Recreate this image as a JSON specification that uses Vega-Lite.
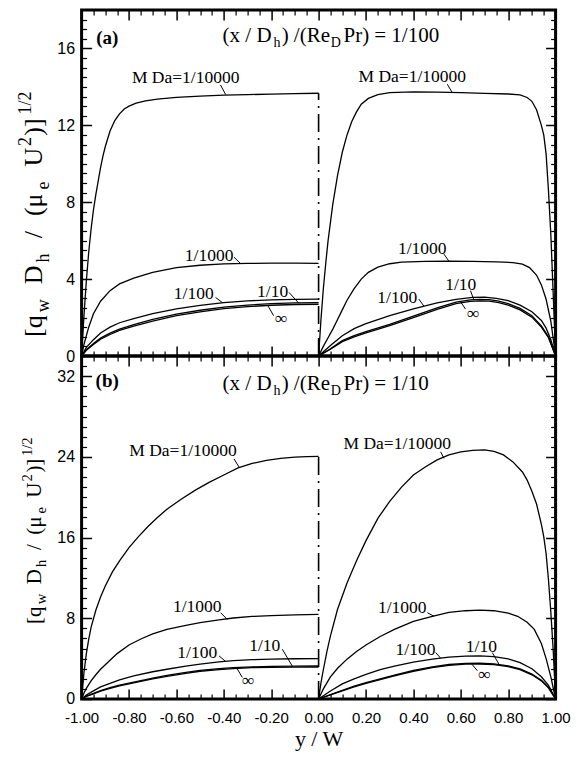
{
"$schema": "https://vega.github.io/schema/vega-lite/v6.json",
"autosize": {"type": "pad"},
"padding": {"left": 15.6, "top": 7, "right": 23, "bottom": 5},
"background": "white",
"config": {
  "view": {"stroke": "black", "strokeWidth": 3},
  "axis": {"domain": false, "grid": false, "labelFont": "Liberation Sans", "labelColor": "black", "tickColor": "black", "titleFont": "Liberation Serif", "titleColor": "black", "titleFontWeight": "normal", "labelFlush": false, "labelOverlap": false}
},
"datasets": {
"ca": [
{"s":"4","h":"L","x":-1,"y":0},{"s":"4","h":"L","x":-0.99,"y":2.1},{"s":"4","h":"L","x":-0.98,"y":3.9},{"s":"4","h":"L","x":-0.97,"y":5.4},{"s":"4","h":"L","x":-0.96,"y":6.6},{"s":"4","h":"L","x":-0.95,"y":7.6},{"s":"4","h":"L","x":-0.94,"y":8.4},{"s":"4","h":"L","x":-0.93,"y":9.1},{"s":"4","h":"L","x":-0.92,"y":9.8},{"s":"4","h":"L","x":-0.91,"y":10.4},{"s":"4","h":"L","x":-0.9,"y":10.9},{"s":"4","h":"L","x":-0.89,"y":11.3},{"s":"4","h":"L","x":-0.88,"y":11.7},{"s":"4","h":"L","x":-0.86,"y":12.25},{"s":"4","h":"L","x":-0.84,"y":12.6},{"s":"4","h":"L","x":-0.82,"y":12.85},{"s":"4","h":"L","x":-0.8,"y":13.0},{"s":"4","h":"L","x":-0.77,"y":13.15},{"s":"4","h":"L","x":-0.73,"y":13.27},{"s":"4","h":"L","x":-0.68,"y":13.36},{"s":"4","h":"L","x":-0.6,"y":13.45},{"s":"4","h":"L","x":-0.5,"y":13.52},{"s":"4","h":"L","x":-0.4,"y":13.57},{"s":"4","h":"L","x":-0.3,"y":13.6},{"s":"4","h":"L","x":-0.2,"y":13.62},{"s":"4","h":"L","x":-0.1,"y":13.65},{"s":"4","h":"L","x":0,"y":13.67},
{"s":"4","h":"R","x":0,"y":0},{"s":"4","h":"R","x":0.01,"y":1.9},{"s":"4","h":"R","x":0.02,"y":3.5},{"s":"4","h":"R","x":0.03,"y":4.8},{"s":"4","h":"R","x":0.04,"y":6.0},{"s":"4","h":"R","x":0.06,"y":7.9},{"s":"4","h":"R","x":0.08,"y":9.4},{"s":"4","h":"R","x":0.1,"y":10.6},{"s":"4","h":"R","x":0.12,"y":11.5},{"s":"4","h":"R","x":0.14,"y":12.2},{"s":"4","h":"R","x":0.16,"y":12.7},{"s":"4","h":"R","x":0.18,"y":13.1},{"s":"4","h":"R","x":0.21,"y":13.4},{"s":"4","h":"R","x":0.25,"y":13.6},{"s":"4","h":"R","x":0.3,"y":13.7},{"s":"4","h":"R","x":0.4,"y":13.74},{"s":"4","h":"R","x":0.5,"y":13.73},{"s":"4","h":"R","x":0.6,"y":13.7},{"s":"4","h":"R","x":0.7,"y":13.66},{"s":"4","h":"R","x":0.8,"y":13.63},{"s":"4","h":"R","x":0.85,"y":13.58},{"s":"4","h":"R","x":0.88,"y":13.45},{"s":"4","h":"R","x":0.9,"y":13.25},{"s":"4","h":"R","x":0.92,"y":12.8},{"s":"4","h":"R","x":0.94,"y":12.0},{"s":"4","h":"R","x":0.95,"y":11.5},{"s":"4","h":"R","x":0.96,"y":10.5},{"s":"4","h":"R","x":0.97,"y":8.6},{"s":"4","h":"R","x":0.98,"y":6.3},{"s":"4","h":"R","x":0.99,"y":3.2},{"s":"4","h":"R","x":1,"y":0},
{"s":"3","h":"L","x":-1,"y":0},{"s":"3","h":"L","x":-0.99,"y":0.6},{"s":"3","h":"L","x":-0.97,"y":1.5},{"s":"3","h":"L","x":-0.95,"y":2.2},{"s":"3","h":"L","x":-0.92,"y":2.85},{"s":"3","h":"L","x":-0.88,"y":3.4},{"s":"3","h":"L","x":-0.84,"y":3.75},{"s":"3","h":"L","x":-0.78,"y":4.05},{"s":"3","h":"L","x":-0.7,"y":4.35},{"s":"3","h":"L","x":-0.6,"y":4.6},{"s":"3","h":"L","x":-0.5,"y":4.72},{"s":"3","h":"L","x":-0.4,"y":4.79},{"s":"3","h":"L","x":-0.3,"y":4.82},{"s":"3","h":"L","x":-0.2,"y":4.83},{"s":"3","h":"L","x":-0.1,"y":4.83},{"s":"3","h":"L","x":0,"y":4.82},
{"s":"3","h":"R","x":0,"y":0},{"s":"3","h":"R","x":0.02,"y":0.5},{"s":"3","h":"R","x":0.04,"y":0.95},{"s":"3","h":"R","x":0.06,"y":1.4},{"s":"3","h":"R","x":0.08,"y":1.9},{"s":"3","h":"R","x":0.1,"y":2.4},{"s":"3","h":"R","x":0.12,"y":2.9},{"s":"3","h":"R","x":0.15,"y":3.5},{"s":"3","h":"R","x":0.18,"y":4.0},{"s":"3","h":"R","x":0.21,"y":4.35},{"s":"3","h":"R","x":0.25,"y":4.62},{"s":"3","h":"R","x":0.3,"y":4.8},{"s":"3","h":"R","x":0.35,"y":4.88},{"s":"3","h":"R","x":0.45,"y":4.92},{"s":"3","h":"R","x":0.55,"y":4.93},{"s":"3","h":"R","x":0.65,"y":4.92},{"s":"3","h":"R","x":0.75,"y":4.9},{"s":"3","h":"R","x":0.82,"y":4.86},{"s":"3","h":"R","x":0.86,"y":4.78},{"s":"3","h":"R","x":0.89,"y":4.6},{"s":"3","h":"R","x":0.92,"y":4.2},{"s":"3","h":"R","x":0.94,"y":3.7},{"s":"3","h":"R","x":0.96,"y":2.95},{"s":"3","h":"R","x":0.98,"y":1.8},{"s":"3","h":"R","x":1,"y":0},
{"s":"2","h":"L","x":-1,"y":0},{"s":"2","h":"L","x":-0.98,"y":0.45},{"s":"2","h":"L","x":-0.95,"y":0.85},{"s":"2","h":"L","x":-0.92,"y":1.2},{"s":"2","h":"L","x":-0.88,"y":1.5},{"s":"2","h":"L","x":-0.84,"y":1.73},{"s":"2","h":"L","x":-0.78,"y":1.95},{"s":"2","h":"L","x":-0.7,"y":2.2},{"s":"2","h":"L","x":-0.6,"y":2.45},{"s":"2","h":"L","x":-0.5,"y":2.63},{"s":"2","h":"L","x":-0.4,"y":2.78},{"s":"2","h":"L","x":-0.3,"y":2.87},{"s":"2","h":"L","x":-0.2,"y":2.92},{"s":"2","h":"L","x":-0.1,"y":2.95},{"s":"2","h":"L","x":0,"y":2.96},
{"s":"2","h":"R","x":0,"y":0},{"s":"2","h":"R","x":0.05,"y":0.55},{"s":"2","h":"R","x":0.1,"y":1.05},{"s":"2","h":"R","x":0.15,"y":1.42},{"s":"2","h":"R","x":0.2,"y":1.68},{"s":"2","h":"R","x":0.3,"y":2.1},{"s":"2","h":"R","x":0.4,"y":2.45},{"s":"2","h":"R","x":0.5,"y":2.76},{"s":"2","h":"R","x":0.58,"y":2.95},{"s":"2","h":"R","x":0.65,"y":3.05},{"s":"2","h":"R","x":0.7,"y":3.06},{"s":"2","h":"R","x":0.75,"y":3.0},{"s":"2","h":"R","x":0.8,"y":2.88},{"s":"2","h":"R","x":0.85,"y":2.65},{"s":"2","h":"R","x":0.9,"y":2.3},{"s":"2","h":"R","x":0.94,"y":1.85},{"s":"2","h":"R","x":0.96,"y":1.45},{"s":"2","h":"R","x":0.98,"y":0.85},{"s":"2","h":"R","x":1,"y":0},
{"s":"1","h":"L","x":-1,"y":0},{"s":"1","h":"L","x":-0.98,"y":0.33},{"s":"1","h":"L","x":-0.95,"y":0.65},{"s":"1","h":"L","x":-0.92,"y":0.93},{"s":"1","h":"L","x":-0.88,"y":1.19},{"s":"1","h":"L","x":-0.84,"y":1.4},{"s":"1","h":"L","x":-0.78,"y":1.63},{"s":"1","h":"L","x":-0.7,"y":1.9},{"s":"1","h":"L","x":-0.6,"y":2.18},{"s":"1","h":"L","x":-0.5,"y":2.38},{"s":"1","h":"L","x":-0.4,"y":2.54},{"s":"1","h":"L","x":-0.3,"y":2.65},{"s":"1","h":"L","x":-0.2,"y":2.72},{"s":"1","h":"L","x":-0.1,"y":2.76},{"s":"1","h":"L","x":0,"y":2.77},
{"s":"1","h":"R","x":0,"y":0},{"s":"1","h":"R","x":0.05,"y":0.38},{"s":"1","h":"R","x":0.1,"y":0.8},{"s":"1","h":"R","x":0.15,"y":1.06},{"s":"1","h":"R","x":0.2,"y":1.27},{"s":"1","h":"R","x":0.3,"y":1.65},{"s":"1","h":"R","x":0.4,"y":2.07},{"s":"1","h":"R","x":0.5,"y":2.5},{"s":"1","h":"R","x":0.58,"y":2.8},{"s":"1","h":"R","x":0.64,"y":2.92},{"s":"1","h":"R","x":0.68,"y":2.95},{"s":"1","h":"R","x":0.72,"y":2.93},{"s":"1","h":"R","x":0.76,"y":2.86},{"s":"1","h":"R","x":0.8,"y":2.73},{"s":"1","h":"R","x":0.85,"y":2.48},{"s":"1","h":"R","x":0.9,"y":2.1},{"s":"1","h":"R","x":0.94,"y":1.57},{"s":"1","h":"R","x":0.97,"y":1.0},{"s":"1","h":"R","x":1,"y":0},
{"s":"i","h":"L","x":-1,"y":0},{"s":"i","h":"L","x":-0.98,"y":0.3},{"s":"i","h":"L","x":-0.95,"y":0.6},{"s":"i","h":"L","x":-0.92,"y":0.87},{"s":"i","h":"L","x":-0.88,"y":1.12},{"s":"i","h":"L","x":-0.84,"y":1.33},{"s":"i","h":"L","x":-0.78,"y":1.55},{"s":"i","h":"L","x":-0.7,"y":1.82},{"s":"i","h":"L","x":-0.6,"y":2.1},{"s":"i","h":"L","x":-0.5,"y":2.3},{"s":"i","h":"L","x":-0.4,"y":2.46},{"s":"i","h":"L","x":-0.3,"y":2.57},{"s":"i","h":"L","x":-0.2,"y":2.64},{"s":"i","h":"L","x":-0.1,"y":2.68},{"s":"i","h":"L","x":0,"y":2.69},
{"s":"i","h":"R","x":0,"y":0},{"s":"i","h":"R","x":0.05,"y":0.35},{"s":"i","h":"R","x":0.1,"y":0.75},{"s":"i","h":"R","x":0.15,"y":1.0},{"s":"i","h":"R","x":0.2,"y":1.2},{"s":"i","h":"R","x":0.3,"y":1.58},{"s":"i","h":"R","x":0.4,"y":2.0},{"s":"i","h":"R","x":0.5,"y":2.42},{"s":"i","h":"R","x":0.58,"y":2.72},{"s":"i","h":"R","x":0.64,"y":2.84},{"s":"i","h":"R","x":0.68,"y":2.87},{"s":"i","h":"R","x":0.72,"y":2.85},{"s":"i","h":"R","x":0.76,"y":2.78},{"s":"i","h":"R","x":0.8,"y":2.65},{"s":"i","h":"R","x":0.85,"y":2.4},{"s":"i","h":"R","x":0.9,"y":2.02},{"s":"i","h":"R","x":0.94,"y":1.5},{"s":"i","h":"R","x":0.97,"y":0.95},{"s":"i","h":"R","x":1,"y":0}
],
"cb": [
{"s":"4","h":"L","x":-1,"y":0},{"s":"4","h":"L","x":-0.99,"y":2.6},{"s":"4","h":"L","x":-0.98,"y":4.5},{"s":"4","h":"L","x":-0.97,"y":5.9},{"s":"4","h":"L","x":-0.96,"y":7.1},{"s":"4","h":"L","x":-0.94,"y":8.8},{"s":"4","h":"L","x":-0.92,"y":10.1},{"s":"4","h":"L","x":-0.9,"y":11.2},{"s":"4","h":"L","x":-0.87,"y":12.6},{"s":"4","h":"L","x":-0.84,"y":13.7},{"s":"4","h":"L","x":-0.8,"y":15.0},{"s":"4","h":"L","x":-0.76,"y":16.1},{"s":"4","h":"L","x":-0.72,"y":17.1},{"s":"4","h":"L","x":-0.68,"y":18.0},{"s":"4","h":"L","x":-0.64,"y":18.8},{"s":"4","h":"L","x":-0.58,"y":19.8},{"s":"4","h":"L","x":-0.52,"y":20.7},{"s":"4","h":"L","x":-0.46,"y":21.5},{"s":"4","h":"L","x":-0.4,"y":22.2},{"s":"4","h":"L","x":-0.34,"y":22.9},{"s":"4","h":"L","x":-0.28,"y":23.35},{"s":"4","h":"L","x":-0.22,"y":23.65},{"s":"4","h":"L","x":-0.16,"y":23.85},{"s":"4","h":"L","x":-0.1,"y":23.97},{"s":"4","h":"L","x":-0.05,"y":24.03},{"s":"4","h":"L","x":0,"y":24.06},
{"s":"4","h":"R","x":0,"y":0},{"s":"4","h":"R","x":0.01,"y":1.6},{"s":"4","h":"R","x":0.02,"y":2.9},{"s":"4","h":"R","x":0.035,"y":4.7},{"s":"4","h":"R","x":0.05,"y":6.25},{"s":"4","h":"R","x":0.08,"y":8.9},{"s":"4","h":"R","x":0.12,"y":11.5},{"s":"4","h":"R","x":0.16,"y":13.7},{"s":"4","h":"R","x":0.2,"y":15.7},{"s":"4","h":"R","x":0.25,"y":17.9},{"s":"4","h":"R","x":0.3,"y":19.6},{"s":"4","h":"R","x":0.35,"y":21.0},{"s":"4","h":"R","x":0.4,"y":22.2},{"s":"4","h":"R","x":0.45,"y":23.0},{"s":"4","h":"R","x":0.5,"y":23.7},{"s":"4","h":"R","x":0.55,"y":24.2},{"s":"4","h":"R","x":0.6,"y":24.5},{"s":"4","h":"R","x":0.65,"y":24.65},{"s":"4","h":"R","x":0.7,"y":24.7},{"s":"4","h":"R","x":0.74,"y":24.55},{"s":"4","h":"R","x":0.78,"y":24.2},{"s":"4","h":"R","x":0.82,"y":23.5},{"s":"4","h":"R","x":0.86,"y":22.5},{"s":"4","h":"R","x":0.88,"y":21.7},{"s":"4","h":"R","x":0.9,"y":20.6},{"s":"4","h":"R","x":0.92,"y":19.3},{"s":"4","h":"R","x":0.94,"y":17.3},{"s":"4","h":"R","x":0.95,"y":16.1},{"s":"4","h":"R","x":0.96,"y":14.4},{"s":"4","h":"R","x":0.97,"y":11.8},{"s":"4","h":"R","x":0.98,"y":8.6},{"s":"4","h":"R","x":0.99,"y":4.8},{"s":"4","h":"R","x":1,"y":0},
{"s":"3","h":"L","x":-1,"y":0},{"s":"3","h":"L","x":-0.99,"y":0.6},{"s":"3","h":"L","x":-0.98,"y":1.05},{"s":"3","h":"L","x":-0.96,"y":1.8},{"s":"3","h":"L","x":-0.94,"y":2.4},{"s":"3","h":"L","x":-0.92,"y":2.95},{"s":"3","h":"L","x":-0.88,"y":3.85},{"s":"3","h":"L","x":-0.85,"y":4.5},{"s":"3","h":"L","x":-0.8,"y":5.35},{"s":"3","h":"L","x":-0.75,"y":5.95},{"s":"3","h":"L","x":-0.7,"y":6.45},{"s":"3","h":"L","x":-0.64,"y":6.9},{"s":"3","h":"L","x":-0.56,"y":7.3},{"s":"3","h":"L","x":-0.5,"y":7.56},{"s":"3","h":"L","x":-0.42,"y":7.85},{"s":"3","h":"L","x":-0.36,"y":8.03},{"s":"3","h":"L","x":-0.28,"y":8.18},{"s":"3","h":"L","x":-0.2,"y":8.27},{"s":"3","h":"L","x":-0.1,"y":8.34},{"s":"3","h":"L","x":0,"y":8.38},
{"s":"3","h":"R","x":0,"y":0},{"s":"3","h":"R","x":0.02,"y":1.0},{"s":"3","h":"R","x":0.05,"y":2.2},{"s":"3","h":"R","x":0.08,"y":3.05},{"s":"3","h":"R","x":0.12,"y":3.95},{"s":"3","h":"R","x":0.16,"y":4.7},{"s":"3","h":"R","x":0.2,"y":5.35},{"s":"3","h":"R","x":0.26,"y":6.2},{"s":"3","h":"R","x":0.32,"y":6.9},{"s":"3","h":"R","x":0.4,"y":7.7},{"s":"3","h":"R","x":0.48,"y":8.2},{"s":"3","h":"R","x":0.55,"y":8.58},{"s":"3","h":"R","x":0.62,"y":8.75},{"s":"3","h":"R","x":0.68,"y":8.8},{"s":"3","h":"R","x":0.74,"y":8.75},{"s":"3","h":"R","x":0.8,"y":8.52},{"s":"3","h":"R","x":0.84,"y":8.2},{"s":"3","h":"R","x":0.88,"y":7.6},{"s":"3","h":"R","x":0.91,"y":6.9},{"s":"3","h":"R","x":0.94,"y":5.5},{"s":"3","h":"R","x":0.96,"y":4.0},{"s":"3","h":"R","x":0.98,"y":2.2},{"s":"3","h":"R","x":1,"y":0},
{"s":"2","h":"L","x":-1,"y":0},{"s":"2","h":"L","x":-0.98,"y":0.4},{"s":"2","h":"L","x":-0.95,"y":0.8},{"s":"2","h":"L","x":-0.92,"y":1.2},{"s":"2","h":"L","x":-0.88,"y":1.55},{"s":"2","h":"L","x":-0.84,"y":1.9},{"s":"2","h":"L","x":-0.78,"y":2.3},{"s":"2","h":"L","x":-0.7,"y":2.7},{"s":"2","h":"L","x":-0.64,"y":2.95},{"s":"2","h":"L","x":-0.56,"y":3.25},{"s":"2","h":"L","x":-0.5,"y":3.45},{"s":"2","h":"L","x":-0.42,"y":3.68},{"s":"2","h":"L","x":-0.36,"y":3.8},{"s":"2","h":"L","x":-0.28,"y":3.9},{"s":"2","h":"L","x":-0.2,"y":3.95},{"s":"2","h":"L","x":-0.1,"y":3.99},{"s":"2","h":"L","x":0,"y":4.0},
{"s":"2","h":"R","x":0,"y":0},{"s":"2","h":"R","x":0.05,"y":0.8},{"s":"2","h":"R","x":0.1,"y":1.5},{"s":"2","h":"R","x":0.15,"y":2.0},{"s":"2","h":"R","x":0.2,"y":2.45},{"s":"2","h":"R","x":0.26,"y":2.9},{"s":"2","h":"R","x":0.32,"y":3.25},{"s":"2","h":"R","x":0.4,"y":3.65},{"s":"2","h":"R","x":0.48,"y":3.95},{"s":"2","h":"R","x":0.55,"y":4.15},{"s":"2","h":"R","x":0.62,"y":4.25},{"s":"2","h":"R","x":0.68,"y":4.27},{"s":"2","h":"R","x":0.74,"y":4.2},{"s":"2","h":"R","x":0.8,"y":3.98},{"s":"2","h":"R","x":0.85,"y":3.6},{"s":"2","h":"R","x":0.9,"y":3.0},{"s":"2","h":"R","x":0.94,"y":2.2},{"s":"2","h":"R","x":0.97,"y":1.35},{"s":"2","h":"R","x":1,"y":0},
{"s":"1","h":"L","x":-1,"y":0},{"s":"1","h":"L","x":-0.98,"y":0.28},{"s":"1","h":"L","x":-0.95,"y":0.55},{"s":"1","h":"L","x":-0.92,"y":0.84},{"s":"1","h":"L","x":-0.88,"y":1.12},{"s":"1","h":"L","x":-0.84,"y":1.38},{"s":"1","h":"L","x":-0.78,"y":1.68},{"s":"1","h":"L","x":-0.7,"y":2.08},{"s":"1","h":"L","x":-0.64,"y":2.34},{"s":"1","h":"L","x":-0.56,"y":2.64},{"s":"1","h":"L","x":-0.5,"y":2.84},{"s":"1","h":"L","x":-0.42,"y":3.01},{"s":"1","h":"L","x":-0.36,"y":3.11},{"s":"1","h":"L","x":-0.28,"y":3.19},{"s":"1","h":"L","x":-0.2,"y":3.23},{"s":"1","h":"L","x":-0.1,"y":3.26},{"s":"1","h":"L","x":0,"y":3.27},
{"s":"1","h":"R","x":0,"y":0},{"s":"1","h":"R","x":0.05,"y":0.43},{"s":"1","h":"R","x":0.1,"y":0.86},{"s":"1","h":"R","x":0.15,"y":1.27},{"s":"1","h":"R","x":0.2,"y":1.62},{"s":"1","h":"R","x":0.26,"y":2.0},{"s":"1","h":"R","x":0.32,"y":2.37},{"s":"1","h":"R","x":0.4,"y":2.83},{"s":"1","h":"R","x":0.48,"y":3.18},{"s":"1","h":"R","x":0.55,"y":3.42},{"s":"1","h":"R","x":0.62,"y":3.54},{"s":"1","h":"R","x":0.68,"y":3.56},{"s":"1","h":"R","x":0.74,"y":3.49},{"s":"1","h":"R","x":0.8,"y":3.29},{"s":"1","h":"R","x":0.85,"y":2.98},{"s":"1","h":"R","x":0.9,"y":2.48},{"s":"1","h":"R","x":0.94,"y":1.86},{"s":"1","h":"R","x":0.97,"y":1.14},{"s":"1","h":"R","x":1,"y":0},
{"s":"i","h":"L","x":-1,"y":0},{"s":"i","h":"L","x":-0.98,"y":0.25},{"s":"i","h":"L","x":-0.95,"y":0.5},{"s":"i","h":"L","x":-0.92,"y":0.78},{"s":"i","h":"L","x":-0.88,"y":1.05},{"s":"i","h":"L","x":-0.84,"y":1.3},{"s":"i","h":"L","x":-0.78,"y":1.6},{"s":"i","h":"L","x":-0.7,"y":2.0},{"s":"i","h":"L","x":-0.64,"y":2.25},{"s":"i","h":"L","x":-0.56,"y":2.55},{"s":"i","h":"L","x":-0.5,"y":2.75},{"s":"i","h":"L","x":-0.42,"y":2.92},{"s":"i","h":"L","x":-0.36,"y":3.02},{"s":"i","h":"L","x":-0.28,"y":3.1},{"s":"i","h":"L","x":-0.2,"y":3.14},{"s":"i","h":"L","x":-0.1,"y":3.16},{"s":"i","h":"L","x":0,"y":3.17},
{"s":"i","h":"R","x":0,"y":0},{"s":"i","h":"R","x":0.05,"y":0.4},{"s":"i","h":"R","x":0.1,"y":0.8},{"s":"i","h":"R","x":0.15,"y":1.2},{"s":"i","h":"R","x":0.2,"y":1.55},{"s":"i","h":"R","x":0.26,"y":1.93},{"s":"i","h":"R","x":0.32,"y":2.3},{"s":"i","h":"R","x":0.4,"y":2.75},{"s":"i","h":"R","x":0.48,"y":3.1},{"s":"i","h":"R","x":0.55,"y":3.33},{"s":"i","h":"R","x":0.62,"y":3.45},{"s":"i","h":"R","x":0.68,"y":3.47},{"s":"i","h":"R","x":0.74,"y":3.4},{"s":"i","h":"R","x":0.8,"y":3.2},{"s":"i","h":"R","x":0.85,"y":2.9},{"s":"i","h":"R","x":0.9,"y":2.4},{"s":"i","h":"R","x":0.94,"y":1.8},{"s":"i","h":"R","x":0.97,"y":1.1},{"s":"i","h":"R","x":1,"y":0}
],
"ta": [
{"x":-0.561,"y":14.2,"t":"M Da=1/10000"},{"x":0.395,"y":14.26,"t":"M Da=1/10000"},
{"x":-0.462,"y":4.95,"t":"1/1000"},{"x":0.4375,"y":5.3,"t":"1/1000"},
{"x":-0.527,"y":2.98,"t":"1/100"},{"x":0.332,"y":2.76,"t":"1/100"},
{"x":-0.194,"y":3.07,"t":"1/10"},{"x":0.6,"y":3.43,"t":"1/10"},
{"x":-0.158,"y":1.66,"t":"∞"},{"x":0.652,"y":1.92,"t":"∞"}
],
"la": [
{"x":-0.414,"y":14.1,"x2":-0.392,"y2":13.6},{"x":0.543,"y":14.14,"x2":0.564,"y2":13.7},
{"x":-0.357,"y":5.14,"x2":-0.33,"y2":4.82},{"x":0.529,"y":5.3,"x2":0.55,"y2":4.93},
{"x":-0.435,"y":3.05,"x2":-0.406,"y2":2.78},{"x":0.423,"y":2.96,"x2":0.444,"y2":2.6},
{"x":-0.125,"y":3.31,"x2":-0.083,"y2":2.74},{"x":0.641,"y":3.4,"x2":0.655,"y2":2.92},
{"x":-0.19,"y":2.1,"x2":-0.215,"y2":2.64},{"x":0.62,"y":2.44,"x2":0.6,"y2":2.8}
],
"tb": [
{"x":-0.572,"y":24.1,"t":"M Da=1/10000"},{"x":0.332,"y":24.75,"t":"M Da=1/10000"},
{"x":-0.512,"y":8.65,"t":"1/1000"},{"x":0.353,"y":8.48,"t":"1/1000"},
{"x":-0.512,"y":4.04,"t":"1/100"},{"x":0.409,"y":4.34,"t":"1/100"},
{"x":-0.227,"y":4.77,"t":"1/10"},{"x":0.687,"y":4.67,"t":"1/10"},
{"x":-0.297,"y":1.25,"t":"∞"},{"x":0.7,"y":1.9,"t":"∞"}
],
"lb": [
{"x":-0.357,"y":23.8,"x2":-0.336,"y2":23.0},{"x":0.515,"y":24.5,"x2":0.529,"y2":23.85},
{"x":-0.413,"y":8.55,"x2":-0.386,"y2":7.9},{"x":0.459,"y":8.55,"x2":0.487,"y2":8.2},
{"x":-0.42,"y":4.27,"x2":-0.392,"y2":3.72},{"x":0.494,"y":4.6,"x2":0.515,"y2":4.05},
{"x":-0.153,"y":4.93,"x2":-0.111,"y2":3.26},{"x":0.733,"y":4.6,"x2":0.761,"y2":3.45},
{"x":-0.322,"y":2.14,"x2":-0.343,"y2":2.98},{"x":0.67,"y":2.8,"x2":0.648,"y2":3.42}
],
"da": [{"x":0,"y":0,"y2":13.67}],
"db": [{"x":0,"y":0,"y2":24.06}],
"pa": [
{"x":-0.405,"y":16.33,"t":"(x / D","k":"m"},{"x":-0.19,"y":16.33,"t":"h","k":"s"},{"x":-0.156,"y":16.33,"t":") /(Re","k":"m"},{"x":0.051,"y":16.33,"t":"D","k":"s"},{"x":0.105,"y":16.33,"t":"Pr)","k":"m"},{"x":0.235,"y":16.33,"t":"= 1/100","k":"m"},{"x":-0.892,"y":16.22,"t":"(a)","k":"b"}
],
"pb": [
{"x":-0.405,"y":30.6,"t":"(x / D","k":"m"},{"x":-0.19,"y":30.6,"t":"h","k":"s"},{"x":-0.156,"y":30.6,"t":") /(Re","k":"m"},{"x":0.051,"y":30.6,"t":"D","k":"s"},{"x":0.105,"y":30.6,"t":"Pr)","k":"m"},{"x":0.235,"y":30.6,"t":"= 1/10","k":"m"},{"x":-0.892,"y":30.97,"t":"(b)","k":"b"}
],
"ya": [
{"x":-1.165,"y":0.99,"t":"[q","k":"m"},{"x":-1.165,"y":2.28,"t":"w","k":"s"},{"x":-1.165,"y":3.73,"t":"D","k":"m"},{"x":-1.165,"y":4.87,"t":"h","k":"s"},{"x":-1.165,"y":6.12,"t":"/","k":"m"},{"x":-1.165,"y":7.28,"t":"(μ","k":"m"},{"x":-1.165,"y":8.66,"t":"e","k":"s"},{"x":-1.165,"y":9.86,"t":"U","k":"m"},{"x":-1.165,"y":10.92,"t":"2","k":"u"},{"x":-1.165,"y":11.46,"t":")]","k":"m"},{"x":-1.165,"y":12.57,"t":"1/2","k":"u"}
],
"yb": [
{"x":-1.173,"y":7.43,"t":"[q","k":"m"},{"x":-1.173,"y":9.39,"t":"w","k":"s"},{"x":-1.173,"y":11.37,"t":"D","k":"m"},{"x":-1.173,"y":13.09,"t":"h","k":"s"},{"x":-1.173,"y":14.76,"t":"/","k":"m"},{"x":-1.173,"y":16.28,"t":"(μ","k":"m"},{"x":-1.173,"y":18.39,"t":"e","k":"s"},{"x":-1.173,"y":19.96,"t":"U","k":"m"},{"x":-1.173,"y":21.57,"t":"2","k":"u"},{"x":-1.173,"y":22.44,"t":")]","k":"m"},{"x":-1.173,"y":24.08,"t":"1/2","k":"u"}
]
},
"spacing": 0,
"bounds": "flush",
"vconcat": [
{
  "width": 474, "height": 346,
  "resolve": {"axis": {"x": "independent", "y": "independent"}},
  "layer": [
    {"data": {"name": "ca"}, "mark": {"type": "line", "color": "black", "strokeWidth": 1.3},
     "encoding": {
       "x": {"field": "x", "type": "quantitative", "scale": {"domain": [-1, 1], "nice": false, "zero": false},
             "axis": {"orient": "bottom", "values": [-1,-0.8,-0.6,-0.4,-0.2,0,0.2,0.4,0.6,0.8,1], "labels": false, "tickSize": -10, "tickWidth": 1.5, "title": null}},
       "y": {"field": "y", "type": "quantitative", "scale": {"domain": [0, 18], "nice": false},
             "axis": {"orient": "left", "values": [0,4,8,12,16], "ticks": false, "labelFontSize": 16, "labelPadding": 7, "title": null}},
       "detail": [{"field": "s"}, {"field": "h"}]}},
    {"data": {"name": "la"}, "mark": {"type": "rule", "color": "black", "strokeWidth": 1},
     "encoding": {
       "x": {"field": "x", "type": "quantitative", "axis": {"orient": "bottom", "values": [-0.95,-0.9,-0.85,-0.75,-0.7,-0.65,-0.55,-0.5,-0.45,-0.35,-0.3,-0.25,-0.15,-0.1,-0.05,0.05,0.1,0.15,0.25,0.3,0.35,0.45,0.5,0.55,0.65,0.7,0.75,0.85,0.9,0.95], "labels": false, "tickSize": -5, "tickWidth": 1.2, "title": null}},
       "y": {"field": "y", "type": "quantitative", "axis": {"orient": "left", "values": [0,4,8,12,16], "labels": false, "tickSize": -10, "tickWidth": 1.5, "title": null}},
       "x2": {"field": "x2"}, "y2": {"field": "y2"}}},
    {"data": {"name": "da"}, "mark": {"type": "rule", "color": "black", "strokeWidth": 1.6, "strokeDash": [18, 6, 2, 6]},
     "encoding": {
       "x": {"field": "x", "type": "quantitative", "axis": {"orient": "top", "values": [-1,-0.8,-0.6,-0.4,-0.2,0,0.2,0.4,0.6,0.8,1], "labels": false, "tickSize": -10, "tickWidth": 1.5, "title": null}},
       "y": {"field": "y", "type": "quantitative", "axis": {"orient": "left", "values": [0.5,1,1.5,2,2.5,3,3.5,4.5,5,5.5,6,6.5,7,7.5,8.5,9,9.5,10,10.5,11,11.5,12.5,13,13.5,14,14.5,15,15.5,16.5,17,17.5], "labels": false, "tickSize": -5, "tickWidth": 1.2, "title": null}},
       "y2": {"field": "y2"}}},
    {"data": {"name": "ta"}, "mark": {"type": "text", "font": "Liberation Serif", "fontSize": 17.5, "align": "center", "baseline": "alphabetic", "color": "black"},
     "encoding": {
       "x": {"field": "x", "type": "quantitative", "axis": {"orient": "top", "values": [-0.95,-0.9,-0.85,-0.75,-0.7,-0.65,-0.55,-0.5,-0.45,-0.35,-0.3,-0.25,-0.15,-0.1,-0.05,0.05,0.1,0.15,0.25,0.3,0.35,0.45,0.5,0.55,0.65,0.7,0.75,0.85,0.9,0.95], "labels": false, "tickSize": -5, "tickWidth": 1.2, "title": null}},
       "y": {"field": "y", "type": "quantitative", "axis": {"orient": "right", "values": [0,4,8,12,16], "labels": false, "tickSize": -10, "tickWidth": 1.5, "title": null}},
       "text": {"field": "t"}}},
    {"data": {"name": "pa"}, "transform": [{"filter": "datum.k === 'b'"}], "mark": {"type": "text", "font": "Liberation Serif", "fontWeight": "bold", "fontSize": 19, "align": "center", "baseline": "alphabetic", "color": "black"},
     "encoding": {
       "x": {"field": "x", "type": "quantitative", "axis": null},
       "y": {"field": "y", "type": "quantitative", "axis": {"orient": "right", "values": [0.5,1,1.5,2,2.5,3,3.5,4.5,5,5.5,6,6.5,7,7.5,8.5,9,9.5,10,10.5,11,11.5,12.5,13,13.5,14,14.5,15,15.5,16.5,17,17.5], "labels": false, "tickSize": -5, "tickWidth": 1.2, "title": null}},
       "text": {"field": "t"}}},
    {"data": {"name": "pa"}, "transform": [{"filter": "datum.k === 'm'"}], "mark": {"type": "text", "font": "Liberation Serif", "fontSize": 21, "align": "left", "baseline": "alphabetic", "color": "black"},
     "encoding": {"x": {"field": "x", "type": "quantitative", "axis": null}, "y": {"field": "y", "type": "quantitative", "axis": null}, "text": {"field": "t"}}},
    {"data": {"name": "pa"}, "transform": [{"filter": "datum.k === 's'"}], "mark": {"type": "text", "font": "Liberation Serif", "fontSize": 14, "dy": 5, "align": "left", "baseline": "alphabetic", "color": "black"},
     "encoding": {"x": {"field": "x", "type": "quantitative", "axis": null}, "y": {"field": "y", "type": "quantitative", "axis": null}, "text": {"field": "t"}}},
    {"data": {"name": "ya"}, "transform": [{"filter": "datum.k === 'm'"}], "mark": {"type": "text", "font": "Liberation Serif", "fontSize": 26, "angle": 270, "align": "left", "baseline": "alphabetic", "color": "black"},
     "encoding": {"x": {"field": "x", "type": "quantitative", "axis": null}, "y": {"field": "y", "type": "quantitative", "axis": null}, "text": {"field": "t"}}},
    {"data": {"name": "ya"}, "transform": [{"filter": "datum.k === 's'"}], "mark": {"type": "text", "font": "Liberation Serif", "fontSize": 18, "angle": 270, "dy": 7, "align": "left", "baseline": "alphabetic", "color": "black"},
     "encoding": {"x": {"field": "x", "type": "quantitative", "axis": null}, "y": {"field": "y", "type": "quantitative", "axis": null}, "text": {"field": "t"}}},
    {"data": {"name": "ya"}, "transform": [{"filter": "datum.k === 'u'"}], "mark": {"type": "text", "font": "Liberation Serif", "fontSize": 18, "angle": 270, "dy": -11, "align": "left", "baseline": "alphabetic", "color": "black"},
     "encoding": {"x": {"field": "x", "type": "quantitative", "axis": null}, "y": {"field": "y", "type": "quantitative", "axis": null}, "text": {"field": "t"}}}
  ]
},
{
  "width": 474, "height": 343,
  "resolve": {"axis": {"x": "independent", "y": "independent"}},
  "layer": [
    {"data": {"name": "cb"}, "mark": {"type": "line", "color": "black", "strokeWidth": 1.3},
     "encoding": {
       "x": {"field": "x", "type": "quantitative", "scale": {"domain": [-1, 1], "nice": false, "zero": false},
             "axis": {"orient": "bottom", "values": [-1,-0.8,-0.6,-0.4,-0.2,0,0.2,0.4,0.6,0.8,1], "format": ".2f", "labelExpr": "replace(datum.label, '−', '-')", "ticks": false, "labelFontSize": 15, "labelPadding": 12, "title": "y / W", "titleFontSize": 22, "titlePadding": 3}},
       "y": {"field": "y", "type": "quantitative", "scale": {"domain": [0, 34], "nice": false},
             "axis": {"orient": "left", "values": [0,8,16,24,32], "ticks": false, "labelFontSize": 16, "labelPadding": 7, "title": null}},
       "detail": [{"field": "s"}, {"field": "h"}]}},
    {"data": {"name": "lb"}, "mark": {"type": "rule", "color": "black", "strokeWidth": 1},
     "encoding": {
       "x": {"field": "x", "type": "quantitative", "axis": {"orient": "bottom", "values": [-1,-0.8,-0.6,-0.4,-0.2,0,0.2,0.4,0.6,0.8,1], "labels": false, "tickSize": -10, "tickWidth": 1.5, "title": null}},
       "y": {"field": "y", "type": "quantitative", "axis": {"orient": "left", "values": [0,8,16,24,32], "labels": false, "tickSize": -10, "tickWidth": 1.5, "title": null}},
       "x2": {"field": "x2"}, "y2": {"field": "y2"}}},
    {"data": {"name": "db"}, "mark": {"type": "rule", "color": "black", "strokeWidth": 1.6, "strokeDash": [18, 6, 2, 6]},
     "encoding": {
       "x": {"field": "x", "type": "quantitative", "axis": {"orient": "bottom", "values": [-0.95,-0.9,-0.85,-0.75,-0.7,-0.65,-0.55,-0.5,-0.45,-0.35,-0.3,-0.25,-0.15,-0.1,-0.05,0.05,0.1,0.15,0.25,0.3,0.35,0.45,0.5,0.55,0.65,0.7,0.75,0.85,0.9,0.95], "labels": false, "tickSize": -5, "tickWidth": 1.2, "title": null}},
       "y": {"field": "y", "type": "quantitative", "axis": {"orient": "left", "values": [1,2,3,4,5,6,7,9,10,11,12,13,14,15,17,18,19,20,21,22,23,25,26,27,28,29,30,31,33], "labels": false, "tickSize": -5, "tickWidth": 1.2, "title": null}},
       "y2": {"field": "y2"}}},
    {"data": {"name": "tb"}, "mark": {"type": "text", "font": "Liberation Serif", "fontSize": 17.5, "align": "center", "baseline": "alphabetic", "color": "black"},
     "encoding": {
       "x": {"field": "x", "type": "quantitative", "axis": {"orient": "top", "values": [-1,-0.8,-0.6,-0.4,-0.2,0,0.2,0.4,0.6,0.8,1], "labels": false, "tickSize": -10, "tickWidth": 1.5, "title": null}},
       "y": {"field": "y", "type": "quantitative", "axis": {"orient": "right", "values": [0,8,16,24,32], "labels": false, "tickSize": -10, "tickWidth": 1.5, "title": null}},
       "text": {"field": "t"}}},
    {"data": {"name": "pb"}, "transform": [{"filter": "datum.k === 'b'"}], "mark": {"type": "text", "font": "Liberation Serif", "fontWeight": "bold", "fontSize": 19, "align": "center", "baseline": "alphabetic", "color": "black"},
     "encoding": {
       "x": {"field": "x", "type": "quantitative", "axis": {"orient": "top", "values": [-0.95,-0.9,-0.85,-0.75,-0.7,-0.65,-0.55,-0.5,-0.45,-0.35,-0.3,-0.25,-0.15,-0.1,-0.05,0.05,0.1,0.15,0.25,0.3,0.35,0.45,0.5,0.55,0.65,0.7,0.75,0.85,0.9,0.95], "labels": false, "tickSize": -5, "tickWidth": 1.2, "title": null}},
       "y": {"field": "y", "type": "quantitative", "axis": {"orient": "right", "values": [1,2,3,4,5,6,7,9,10,11,12,13,14,15,17,18,19,20,21,22,23,25,26,27,28,29,30,31,33], "labels": false, "tickSize": -5, "tickWidth": 1.2, "title": null}},
       "text": {"field": "t"}}},
    {"data": {"name": "pb"}, "transform": [{"filter": "datum.k === 'm'"}], "mark": {"type": "text", "font": "Liberation Serif", "fontSize": 21, "align": "left", "baseline": "alphabetic", "color": "black"},
     "encoding": {"x": {"field": "x", "type": "quantitative", "axis": null}, "y": {"field": "y", "type": "quantitative", "axis": null}, "text": {"field": "t"}}},
    {"data": {"name": "pb"}, "transform": [{"filter": "datum.k === 's'"}], "mark": {"type": "text", "font": "Liberation Serif", "fontSize": 14, "dy": 5, "align": "left", "baseline": "alphabetic", "color": "black"},
     "encoding": {"x": {"field": "x", "type": "quantitative", "axis": null}, "y": {"field": "y", "type": "quantitative", "axis": null}, "text": {"field": "t"}}},
    {"data": {"name": "yb"}, "transform": [{"filter": "datum.k === 'm'"}], "mark": {"type": "text", "font": "Liberation Serif", "fontSize": 21, "angle": 270, "align": "left", "baseline": "alphabetic", "color": "black"},
     "encoding": {"x": {"field": "x", "type": "quantitative", "axis": null}, "y": {"field": "y", "type": "quantitative", "axis": null}, "text": {"field": "t"}}},
    {"data": {"name": "yb"}, "transform": [{"filter": "datum.k === 's'"}], "mark": {"type": "text", "font": "Liberation Serif", "fontSize": 14.5, "angle": 270, "dy": 5.5, "align": "left", "baseline": "alphabetic", "color": "black"},
     "encoding": {"x": {"field": "x", "type": "quantitative", "axis": null}, "y": {"field": "y", "type": "quantitative", "axis": null}, "text": {"field": "t"}}},
    {"data": {"name": "yb"}, "transform": [{"filter": "datum.k === 'u'"}], "mark": {"type": "text", "font": "Liberation Serif", "fontSize": 14.5, "angle": 270, "dy": -9, "align": "left", "baseline": "alphabetic", "color": "black"},
     "encoding": {"x": {"field": "x", "type": "quantitative", "axis": null}, "y": {"field": "y", "type": "quantitative", "axis": null}, "text": {"field": "t"}}}
  ]
}
]
}
